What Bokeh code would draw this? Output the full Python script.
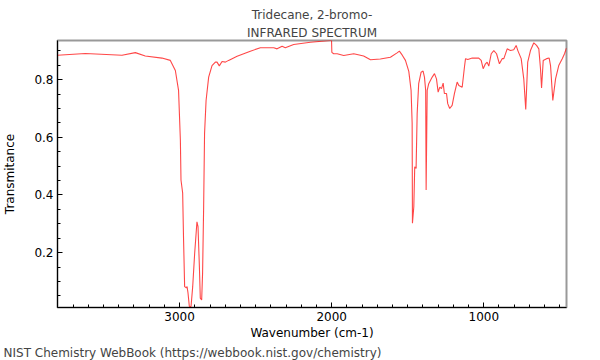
from bokeh.plotting import figure
from bokeh.models import SingleIntervalTicker, Title, Range1d
from bokeh.embed import file_html
from bokeh.resources import INLINE

title_line1 = "Tridecane, 2-bromo-"
title_line2 = "INFRARED SPECTRUM"
x_label = "Wavenumber (cm-1)"
y_label = "Transmitance"
footer = "NIST Chemistry WebBook (https://webbook.nist.gov/chemistry)"

wavenumber = [3803, 3620, 3379, 3291, 3226, 3116, 3061, 3028, 3007, 2995, 2991, 2980, 2974,
              2967, 2956, 2951, 2945, 2936, 2925, 2914, 2901, 2886, 2879, 2870, 2864, 2855,
              2849, 2842, 2836, 2826, 2809, 2787, 2765, 2754, 2739, 2721, 2699, 2678, 2622,
              2535, 2469, 2381, 2359, 2326, 2305, 2250, 2140, 2008, 2001, 1999, 1987, 1964,
              1921, 1855, 1790, 1745, 1680, 1614, 1570, 1555, 1537, 1515, 1493, 1478, 1471,
              1469, 1460, 1454, 1445, 1438, 1428, 1412, 1399, 1390, 1382, 1379, 1372, 1362,
              1339, 1324, 1311, 1300, 1289, 1278, 1267, 1259, 1245, 1237, 1224, 1208, 1193,
              1175, 1164, 1142, 1127, 1120, 1105, 1076, 1033, 1017, 1004, 989, 978, 967, 951,
              934, 916, 897, 879, 868, 846, 824, 803, 787, 776, 754, 737, 724, 711, 693, 671,
              653, 638, 627, 620, 609, 587, 570, 561, 546, 528, 507, 484, 469, 456]
transmittance = [0.885, 0.891, 0.885, 0.894, 0.882, 0.875, 0.867, 0.832, 0.763, 0.590, 0.452,
                 0.407, 0.244, 0.082, 0.078, 0.082, 0.061, 0.013, 0.013, 0.082, 0.198, 0.307,
                 0.290, 0.152, 0.042, 0.036, 0.129, 0.359, 0.613, 0.728, 0.809, 0.849, 0.861,
                 0.861, 0.848, 0.863, 0.861, 0.867, 0.881, 0.899, 0.911, 0.911, 0.907, 0.916,
                 0.911, 0.922, 0.930, 0.936, 0.936, 0.895, 0.890, 0.890, 0.884, 0.890, 0.882,
                 0.869, 0.872, 0.878, 0.893, 0.899, 0.886, 0.867, 0.829, 0.763, 0.649, 0.302,
                 0.359, 0.498, 0.492, 0.682, 0.786, 0.826, 0.830, 0.809, 0.763, 0.417, 0.763,
                 0.786, 0.809, 0.821, 0.803, 0.757, 0.774, 0.769, 0.788, 0.752, 0.752, 0.717,
                 0.700, 0.711, 0.752, 0.792, 0.780, 0.774, 0.844, 0.873, 0.870, 0.875, 0.875,
                 0.867, 0.838, 0.855, 0.861, 0.847, 0.890, 0.901, 0.890, 0.855, 0.873, 0.873,
                 0.907, 0.901, 0.904, 0.919, 0.901, 0.873, 0.803, 0.697, 0.861, 0.901, 0.928,
                 0.919, 0.907, 0.838, 0.771, 0.867, 0.873, 0.875, 0.849, 0.728, 0.803, 0.849,
                 0.873, 0.890, 0.910]

FONT = "DejaVu Sans"

p = figure(width=600, height=360, output_backend="svg", toolbar_location=None,
           x_range=Range1d(3803, 456), y_range=Range1d(0.0097, 0.936),
           min_border_left=57, min_border_right=34, min_border_top=40, min_border_bottom=52)

p.line(wavenumber, transmittance, line_color="#ff0000", line_width=1.1, line_alpha=0.72)

p.xgrid.visible = False
p.ygrid.visible = False
p.outline_line_color = "#999999"
p.outline_line_width = 2

p.xaxis.ticker = SingleIntervalTicker(interval=1000, num_minor_ticks=10)
p.yaxis.ticker = SingleIntervalTicker(interval=0.2, num_minor_ticks=4)
for ax in (p.xaxis, p.yaxis):
    ax.major_tick_in = 5
    ax.major_tick_out = 0
    ax.minor_tick_in = 3
    ax.minor_tick_out = 0
    ax.axis_line_color = "black"
    ax.major_tick_line_color = "black"
    ax.minor_tick_line_color = "black"
    ax.major_label_text_font = FONT
    ax.major_label_text_font_size = "12px"
    ax.major_label_text_color = "black"
    ax.axis_label_text_font = FONT
    ax.axis_label_text_font_size = "12px"
    ax.axis_label_text_font_style = "normal"
    ax.axis_label_text_color = "black"
    ax.major_label_standoff = 4

p.xaxis.axis_label = x_label
p.yaxis.axis_label = y_label
p.xaxis.axis_label_standoff = 2
p.yaxis.axis_label_standoff = 14

t2 = Title(text=title_line2, align="center", text_font=FONT, text_font_size="12px",
           text_font_style="normal", standoff=2)
t1 = Title(text=title_line1, align="center", text_font=FONT, text_font_size="12px",
           text_font_style="normal", standoff=2)
p.add_layout(t2, "above")
p.add_layout(t1, "above")

ft = Title(text=footer, align="left", text_font=FONT, text_font_size="12px",
           text_font_style="normal", offset=-54, standoff=2)
p.add_layout(ft, "below")

open("out.html", "w").write(file_html(p, INLINE))
